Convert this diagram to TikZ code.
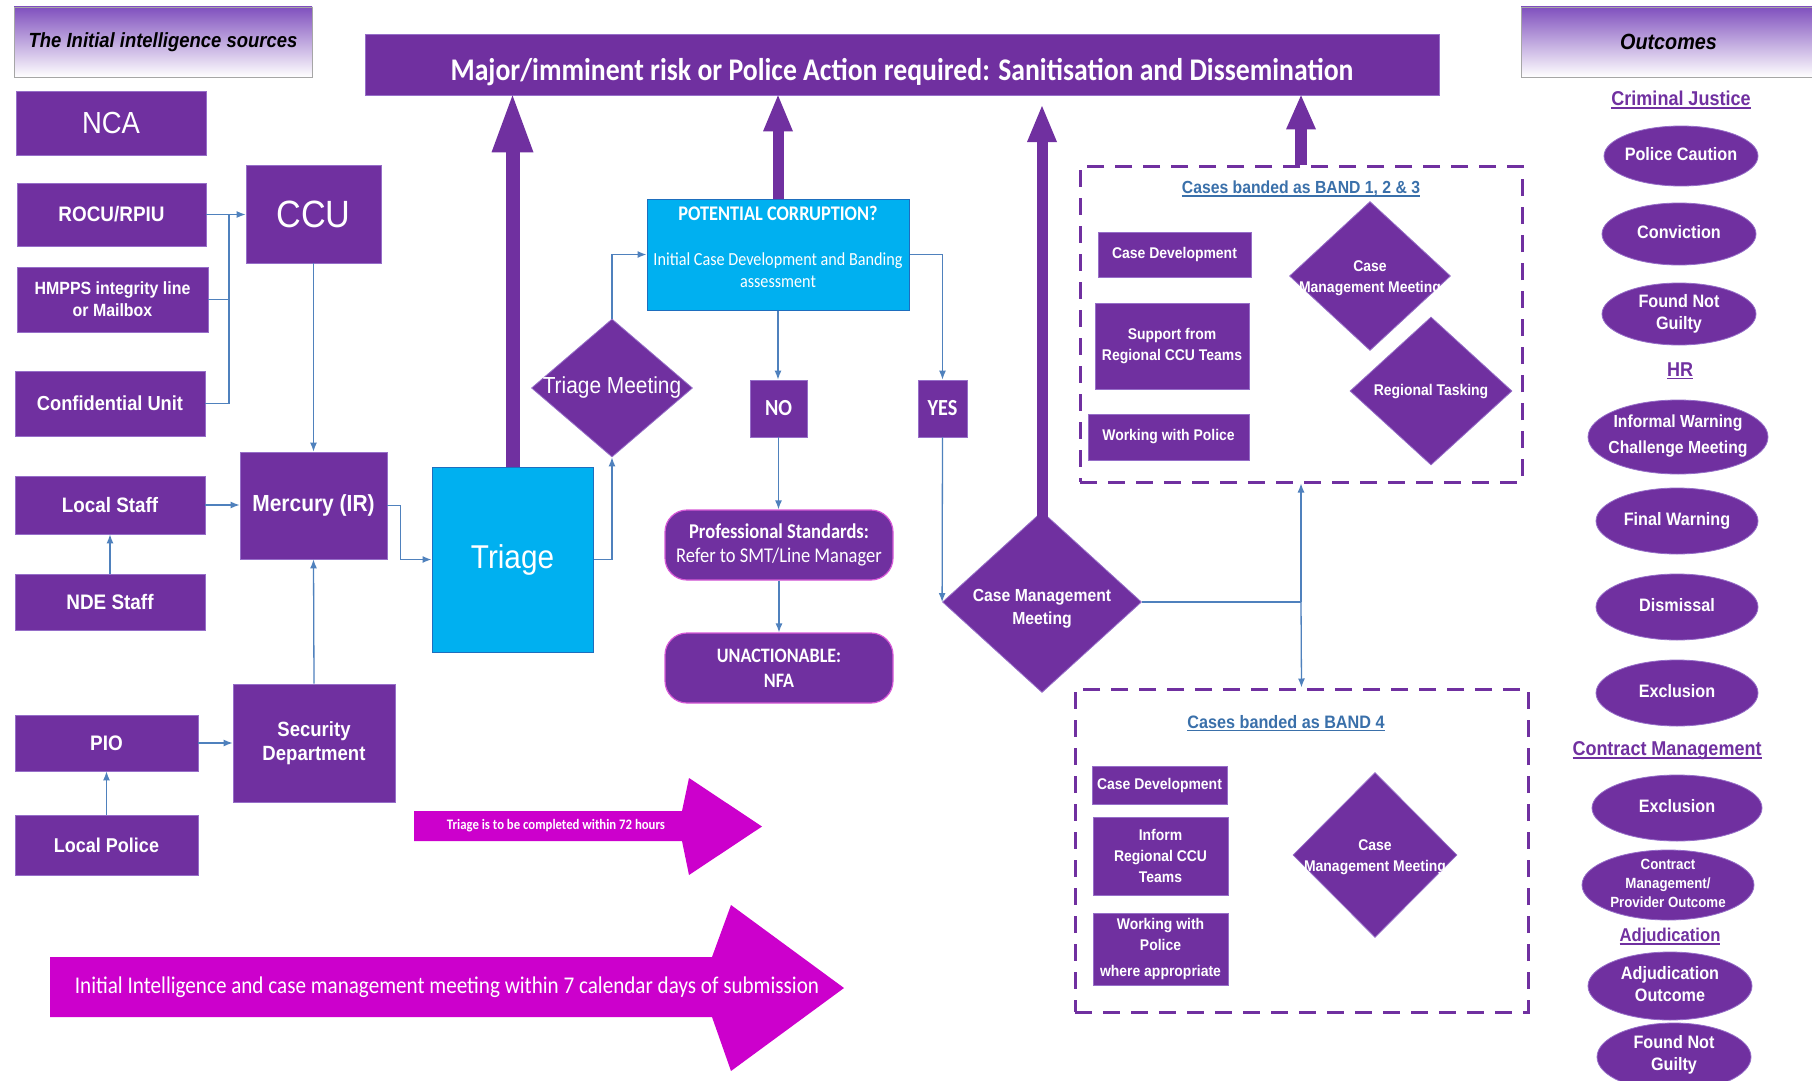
\documentclass[tikz,border=0pt]{standalone}
\usepackage{fontspec}
\usetikzlibrary{arrows.meta,shapes.geometric,calc}
\newfontfamily\arial{Liberation Sans}[FakeStretch=0.9]
\newfontfamily\calib{Carlito}[FakeStretch=0.88]
\newcommand\fs[2]{\fontsize{#1}{#2}\selectfont}
\newcommand\zbox[2][0pt]{\smash{\makebox[0pt]{\raisebox{\dimexpr(\depth-\height)/2-#1\relax}{\begin{tabular}{@{}c@{}}#2\end{tabular}}}}}
\newsavebox\ulb
\newcommand\uln[1]{\sbox\ulb{#1}\rlap{\rule[-3pt]{\wd\ulb}{1.5pt}}\usebox\ulb}
\definecolor{purp}{RGB}{112,48,160}
\definecolor{purpline}{RGB}{150,110,200}
\definecolor{cyanb}{RGB}{0,176,240}
\definecolor{cyanline}{RGB}{30,110,190}
\definecolor{connc}{RGB}{79,129,189}
\definecolor{mag}{RGB}{204,0,204}
\definecolor{magline}{RGB}{215,90,215}
\definecolor{bandt}{RGB}{58,112,170}
\definecolor{gtop}{RGB}{128,80,190}
\definecolor{gmid}{RGB}{110,70,222}
\tikzset{
  pbox/.style={rectangle, fill=purp, draw=purpline, line width=0.8pt, text=white, align=center, inner sep=2pt},
  cbox/.style={rectangle, fill=cyanb, draw=cyanline, line width=1pt, text=white, align=center, inner sep=2pt},
  dia/.style={diamond, fill=purp, draw=purpline, line width=0.8pt, text=white, inner sep=0pt},
  ell/.style={ellipse, fill=purp, draw=purpline, line width=0.8pt, text=white, inner sep=0pt, font=\arial\bfseries\fs{18}{22}},
  rbox/.style={rectangle, rounded corners=22pt, fill=purp, draw=magline, line width=1.2pt, text=white, align=center},
  conn/.style={draw=connc, line width=1.3pt, -{Latex[length=9pt,width=7pt]}},
  cline/.style={draw=connc, line width=1.3pt},
  dbox/.style={rectangle, draw=purp, line width=3pt, dash pattern=on 17pt off 11pt},
  gbox/.style={rectangle, draw=gray!70, line width=0.8pt, top color=gtop, middle color=gmid, bottom color=white, text=black},
  sectitle/.style={text=purp, font=\arial\bfseries\fs{20}{24}},
  btitle/.style={text=bandt, font=\arial\bfseries\fs{17.5}{21}},
  smallb/.style={font=\arial\bfseries\fs{15.5}{21}},
  mtext/.style={text=white, align=center}
}
\begin{document}
\begin{tikzpicture}[x=1pt,y=-1pt]
\useasboundingbox (0,0) rectangle (1812,1081);
\fill[white] (0,0) rectangle (1812,1081);

% header boxes
\node[gbox, minimum width=298pt, minimum height=70pt, font=\arial\bfseries\itshape\fs{20.5}{24}] (srct) at (163,42) {The Initial intelligence sources};
\node[gbox, minimum width=295pt, minimum height=70pt, font=\arial\bfseries\itshape\fs{22}{26}] (outt) at (1668.5,42) {Outcomes};
\node[pbox, minimum width=1074pt, minimum height=61pt, font=\calib\bfseries\fs{31.5}{36}] (banner) at (902,64.5) {\smash{\raisebox{-16pt}{Major/imminent risk or Police Action required: Sanitisation and Dissemination}}};

% sources
\node[pbox, minimum width=190pt, minimum height=64pt, font=\arial\fs{30.5}{34}] (nca) at (111,123) {NCA};
\node[pbox, minimum width=189pt, minimum height=63pt, font=\arial\bfseries\fs{21}{25}] (rocu) at (111.5,214.5) {ROCU/RPIU};
\node[pbox, minimum width=135pt, minimum height=98pt, font=\arial\fs{38}{42}] (ccu) at (313.5,214) {CCU};
\node[pbox, minimum width=191pt, minimum height=65pt, font=\arial\bfseries\fs{17.7}{22}] (hmpps) at (112.5,299.5) {HMPPS integrity line\\or Mailbox};
\node[pbox, minimum width=190pt, minimum height=65pt, font=\arial\bfseries\fs{20.3}{24}] (conf) at (110,403.5) {Confidential Unit};
\node[pbox, minimum width=190pt, minimum height=58pt, font=\arial\bfseries\fs{20.9}{24}] (lstaff) at (110,505) {Local Staff};
\node[pbox, minimum width=147pt, minimum height=107pt, font=\arial\bfseries\fs{23.3}{27}] (merc) at (313.5,505.5) {Mercury (IR)};
\node[pbox, minimum width=190pt, minimum height=56pt, font=\arial\bfseries\fs{21}{24}] (nde) at (110,602) {NDE Staff};
\node[pbox, minimum width=183pt, minimum height=56pt, font=\arial\bfseries\fs{21}{24}] (pio) at (106.5,743) {PIO};
\node[pbox, minimum width=162pt, minimum height=118pt, font=\arial\bfseries\fs{20.6}{24}] (secd) at (314,743) {Security\\Department};
\node[pbox, minimum width=183pt, minimum height=60pt, font=\arial\bfseries\fs{20}{24}] (lpol) at (106.5,845) {Local Police};

% triage
\node[cbox, minimum width=161pt, minimum height=185pt, font=\arial\fs{33}{38}] (triage) at (512.5,559.5) {Triage};
\node[dia, minimum width=161pt, minimum height=138pt, font=\arial\fs{23.2}{27}] (tm) at (612,388) {\zbox{Triage Meeting}};

% potential corruption
\node[cbox, minimum width=262pt, minimum height=111pt] (pc) at (778,254.5) {};
\node[mtext, font=\calib\bfseries\fs{20.8}{24}] (pct) at (778,213) {POTENTIAL CORRUPTION?};
\node[mtext, font=\calib\fs{18.4}{22}] (pcs) at (778,270) {Initial Case Development and Banding\\assessment};
\node[pbox, minimum width=57pt, minimum height=57pt, font=\calib\bfseries\fs{23}{26}] (no) at (778.5,408.5) {NO};
\node[pbox, minimum width=49pt, minimum height=57pt, font=\calib\bfseries\fs{23}{26}] (yes) at (942.5,408.5) {YES};
\node[rbox, minimum width=228pt, minimum height=70pt, font=\calib\fs{21}{24}] (ps) at (779,545) {\textbf{Professional Standards:}\\Refer to SMT/Line Manager};
\node[rbox, minimum width=228pt, minimum height=70pt, font=\calib\bfseries\fs{20.5}{25}] (un) at (779,668) {UNACTIONABLE:\\NFA};

% case management meeting
\node[dia, minimum width=199pt, minimum height=181pt, font=\arial\bfseries\fs{17.5}{23}] (cmm) at (1042,602) {\zbox[6pt]{Case Management\\Meeting}};

% band 1-3
\node[dbox, minimum width=442pt, minimum height=316pt] (b13) at (1301,324) {};
\node[btitle] (b13t) at (1301,189) {\uln{Cases banded as BAND 1, 2 \& 3}};
\node[pbox, smallb, minimum width=153pt, minimum height=45pt] (cd1) at (1174.5,254.5) {Case Development};
\node[pbox, smallb, minimum width=154pt, minimum height=86pt] (sup) at (1172,346) {Support from\\Regional CCU Teams};
\node[pbox, smallb, minimum width=161pt, minimum height=46pt] (wwp1) at (1168.5,437) {Working with Police};
\node[dia, smallb, minimum width=161pt, minimum height=149pt] (cmm1) at (1370,276) {\zbox[2pt]{Case\\Management Meeting}};
\node[dia, smallb, minimum width=162pt, minimum height=148pt] (rt) at (1431,391) {\zbox{Regional Tasking}};

% band 4
\node[dbox, minimum width=453pt, minimum height=323pt] (b4) at (1301.5,850.5) {};
\node[btitle, font=\arial\bfseries\fs{18}{21}] (b4t) at (1286,723) {\uln{Cases banded as BAND 4}};
\node[pbox, smallb, minimum width=135pt, minimum height=38pt] (cd4) at (1159.5,785) {Case Development};
\node[pbox, smallb, minimum width=135pt, minimum height=78pt] (inf) at (1160.5,856) {Inform\\Regional CCU\\Teams};
\node[pbox, smallb, minimum width=135pt, minimum height=72pt] (wwp4) at (1160.5,949) {Working with\\Police\\[5pt]where appropriate};
\node[dia, smallb, minimum width=164pt, minimum height=165pt] (cmm4) at (1375,855) {\zbox[2pt]{Case\\Management Meeting}};

% outcomes
\node[sectitle] (cj) at (1681,100) {\uln{Criminal Justice}};
\node[ell, minimum width=154pt, minimum height=60pt] (o1) at (1681,156) {\zbox{Police Caution}};
\node[ell, minimum width=154pt, minimum height=62pt] (o2) at (1679,234) {\zbox{Conviction}};
\node[ell, minimum width=154pt, minimum height=62pt] (o3) at (1679,314) {\zbox{Found Not\\Guilty}};
\node[sectitle] (hr) at (1680,371) {\uln{HR}};
\node[ell, minimum width=180pt, minimum height=74pt, font=\arial\bfseries\fs{17.5}{26}] (o4) at (1678,437) {\zbox[-2pt]{Informal Warning\\Challenge Meeting}};
\node[ell, minimum width=162pt, minimum height=66pt] (o5) at (1677,521) {\zbox{Final Warning}};
\node[ell, minimum width=162pt, minimum height=66pt] (o6) at (1677,607) {\zbox{Dismissal}};
\node[ell, minimum width=162pt, minimum height=66pt] (o7) at (1677,693) {\zbox{Exclusion}};
\node[sectitle] (cmt) at (1667,751) {\uln{Contract Management}};
\node[ell, minimum width=170pt, minimum height=66pt] (o8) at (1677,808) {\zbox{Exclusion}};
\node[ell, minimum width=172pt, minimum height=70pt, font=\arial\bfseries\fs{14.8}{19}] (o9) at (1668,885) {\zbox{Contract\\Management/\\Provider Outcome}};
\node[sectitle, font=\arial\bfseries\fs{18.5}{22}] (adj) at (1670,937) {\uln{Adjudication}};
\node[ell, minimum width=164pt, minimum height=68pt] (o10) at (1670,986) {\zbox{Adjudication\\Outcome}};
\node[ell, minimum width=154pt, minimum height=68pt] (o11) at (1674,1057) {\zbox[-2pt]{Found Not\\Guilty}};

% magenta timing arrows
\fill[mag] (414,811) -- (682,811) -- (689,778) -- (762,826.5) -- (689,875) -- (682,841) -- (414,841) -- cycle;
\node[mtext, font=\calib\bfseries\fs{14.5}{18}] (t72) at (556,826) {Triage is to be completed within 72 hours};
\fill[mag] (50,957) -- (712,957) -- (731,905) -- (844,988) -- (731,1071) -- (712,1017) -- (50,1017) -- cycle;
\node[mtext, font=\calib\fs{24}{28}] (t7) at (447,987) {Initial Intelligence and case management meeting within 7 calendar days of submission};

% thin connectors
\coordinate (jn) at (229,214.5);
\draw[conn] (rocu.east) -- (rocu.east -| ccu.west);
\draw[cline] (hmpps.east) -| (jn);
\draw[cline] (conf.east) -| (jn);
\draw[conn] (ccu.south) -- (merc.north);
\draw[conn] (lstaff.east) -- (lstaff.east -| merc.west);
\draw[conn] (nde.north) -- (lstaff.south);
\draw[conn] (secd.north) -- (merc.south);
\draw[conn] (pio.east) -- (pio.east -| secd.west);
\draw[conn] (lpol.north) -- (pio.south);
\draw[conn] (merc.east) -- ++(13,0) |- (triage.west);
\draw[conn] (triage.east) -| (tm.south);
\draw[conn] (tm.north) |- (pc.west);
\draw[conn] (pc.south) -- (pc.south |- no.north);
\draw[conn] (pc.east) -| (yes.north);
\draw[conn] (no.south) -- (no.south |- ps.north);
\draw[conn] (ps.south) -- (un.north);
\draw[conn] (yes.south) -- (cmm.west);
\coordinate (bj) at (cmm.east -| b13.south);
\draw[cline] (cmm.east) -- (bj);
\draw[conn] (bj) -- (b13.south);
\draw[conn] (bj) -- (b4.north);

% big purple arrows to the banner
\coordinate (cmmtip) at (1042,106);
\draw[purp, line width=14pt, -{Triangle[length=57pt,width=42pt,line width=0pt]}] (triage.north) -- (triage.north |- banner.south);
\draw[purp, line width=11pt, -{Triangle[length=36pt,width=30pt,line width=0pt]}] (pc.north) -- (pc.north |- banner.south);
\draw[purp, line width=11pt, -{Triangle[length=36pt,width=30pt,line width=0pt]}] ($(cmm.north)+(0,12)$) -- (cmmtip);
\draw[purp, line width=12pt, -{Triangle[length=34pt,width=30pt,line width=0pt]}] (b13.north) -- (b13.north |- banner.south);
\end{tikzpicture}
\end{document}
